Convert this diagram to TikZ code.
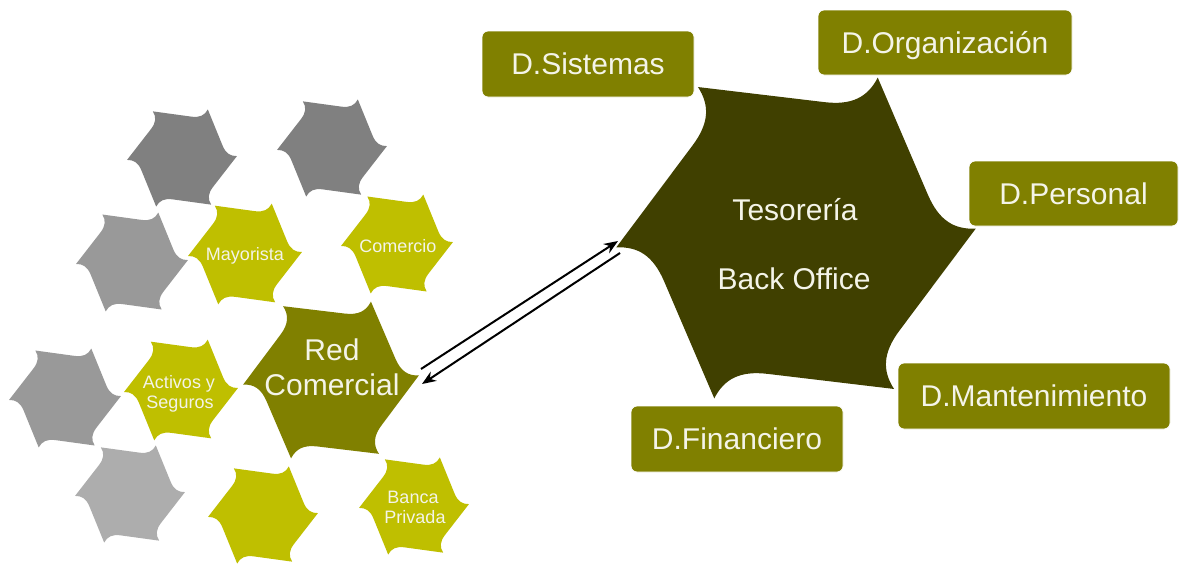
\documentclass[tikz,border=0pt]{standalone}
\usepackage{fontspec}
\setmainfont{Liberation Sans}
\usetikzlibrary{calc,arrows.meta}

\definecolor{hexgrayA}{RGB}{128,128,128}
\definecolor{hexgrayB}{RGB}{153,153,153}
\definecolor{hexgrayC}{RGB}{173,173,173}
\definecolor{hexlime}{RGB}{191,191,0}
\definecolor{hexolive}{RGB}{128,128,0}
\definecolor{hexdark}{RGB}{64,64,0}
\definecolor{boxolive}{RGB}{128,128,0}
\definecolor{labeltext}{RGB}{244,244,232}

% Six-pointed "pinwheel" hexagon: each side runs straight from one tip,
% then flares round into the next tip.
% #1 name, #2 centre, #3 radius, #4 fill colour, #5 rotation of the first tip
\newcommand\pinhex[5]{%
  \coordinate (#1) at (#2);
  \pgfmathsetmacro\phRin{0.8*#3}%
  \pgfmathsetmacro\phRc{0.88*#3}%
  \foreach \k in {0,...,5}{%
    \pgfmathsetmacro\phA{#5+60*\k}%
    \pgfmathsetmacro\phB{#5+60*\k-4}%
    \coordinate (#1-v\k) at ($(#1)+(\phA:#3)$);
    \coordinate (#1-h\k) at ($(#1)+(\phB:\phRin)$);
    \coordinate (#1-c\k) at ($(#1)+(\phA:\phRc)$);
  }%
  \fill[#4] (#1-v0)
    -- ($(#1-v0)!0.82!(#1-h1)$) .. controls (#1-h1) and (#1-c1) .. (#1-v1)
    -- ($(#1-v1)!0.82!(#1-h2)$) .. controls (#1-h2) and (#1-c2) .. (#1-v2)
    -- ($(#1-v2)!0.82!(#1-h3)$) .. controls (#1-h3) and (#1-c3) .. (#1-v3)
    -- ($(#1-v3)!0.82!(#1-h4)$) .. controls (#1-h4) and (#1-c4) .. (#1-v4)
    -- ($(#1-v4)!0.82!(#1-h5)$) .. controls (#1-h5) and (#1-c5) .. (#1-v5)
    -- ($(#1-v5)!0.82!(#1-h0)$) .. controls (#1-h0) and (#1-c0) .. (#1-v0)
    -- cycle;
}

\tikzset{
  dbox/.style={fill=boxolive, draw=white, line width=0.8pt, rounded corners=6pt,
    text=labeltext, font=\fontsize{30}{36}\selectfont,
    text height=27.5pt, text depth=6pt, inner sep=0pt},
  biglabel/.style={text=labeltext, font=\fontsize{30}{36}\selectfont, anchor=base, inner sep=0pt},
  smalllabel/.style={text=labeltext, font=\fontsize{18}{20}\selectfont, anchor=base, inner sep=0pt},
  flow/.style={draw=black, line width=2pt, -{Stealth[length=14pt,width=11pt]}},
}

\begin{document}
\begin{tikzpicture}[x=1pt, y=-1pt]
  \useasboundingbox (0,0) rectangle (1180,565);

  % cluster of the commercial network
  \pinhex{gA}{182,158}{55}{hexgrayA}{-2}
  \pinhex{gB}{332,148}{55}{hexgrayA}{-2}
  \pinhex{gC}{132,262}{56}{hexgrayB}{-2}
  \pinhex{may}{245,254}{57}{hexlime}{-2}
  \pinhex{com}{397,244}{56}{hexlime}{-2}
  \pinhex{red}{331,380}{88}{hexolive}{-3}
  \pinhex{gD}{65,398}{56}{hexgrayB}{-2}
  \pinhex{act}{181,390}{57}{hexlime}{-2}
  \pinhex{gE}{130,494}{55}{hexgrayC}{-2}
  \pinhex{yel}{263,515}{55}{hexlime}{-2}
  \pinhex{ban}{414,506}{55}{hexlime}{-2}

  \node[smalllabel] (mayT) at (245,260) {Mayorista};
  \node[smalllabel] (comT) at (398,252) {Comercio};
  \node[smalllabel] (actT1) at (179,388) {Activos y};
  \node[smalllabel] (actT2) at (180,408) {Seguros};
  \node[smalllabel] (banT1) at (413,503) {Banca};
  \node[smalllabel] (banT2) at (415,523) {Privada};
  \node[biglabel] (redT1) at (332,360) {Red};
  \node[biglabel] (redT2) at (332,395) {Comercial};

  % treasury hub and its departments
  \pinhex{tes}{796,238}{180}{hexdark}{-3}
  \node[biglabel] (tesT1) at (795,220) {Tesorería};
  \node[biglabel] (tesT2) at (794,289) {Back Office};

  \node[dbox, minimum width=212pt, minimum height=66pt] (sis) at (588,64) {D.Sistemas};
  \node[dbox, minimum width=254pt, minimum height=65pt] (org) at (945,42.5) {D.Organización};
  \node[dbox, minimum width=209pt, minimum height=65pt] (per) at (1073.5,193.5) {D.Personal};
  \node[dbox, minimum width=272pt, minimum height=66pt] (man) at (1034,396) {D.Mantenimiento};
  \node[dbox, minimum width=212pt, minimum height=66pt] (fin) at (737,439) {D.Financiero};

  % two-way link between the network and the hub
  \coordinate (linkRedOut) at (421,369);
  \coordinate (linkTesIn) at (618,241);
  \coordinate (linkTesOut) at (620,253);
  \coordinate (linkRedIn) at (422,384);
  \draw[flow] (linkRedOut) -- (linkTesIn);
  \draw[flow] (linkTesOut) -- (linkRedIn);
\end{tikzpicture}
\end{document}
